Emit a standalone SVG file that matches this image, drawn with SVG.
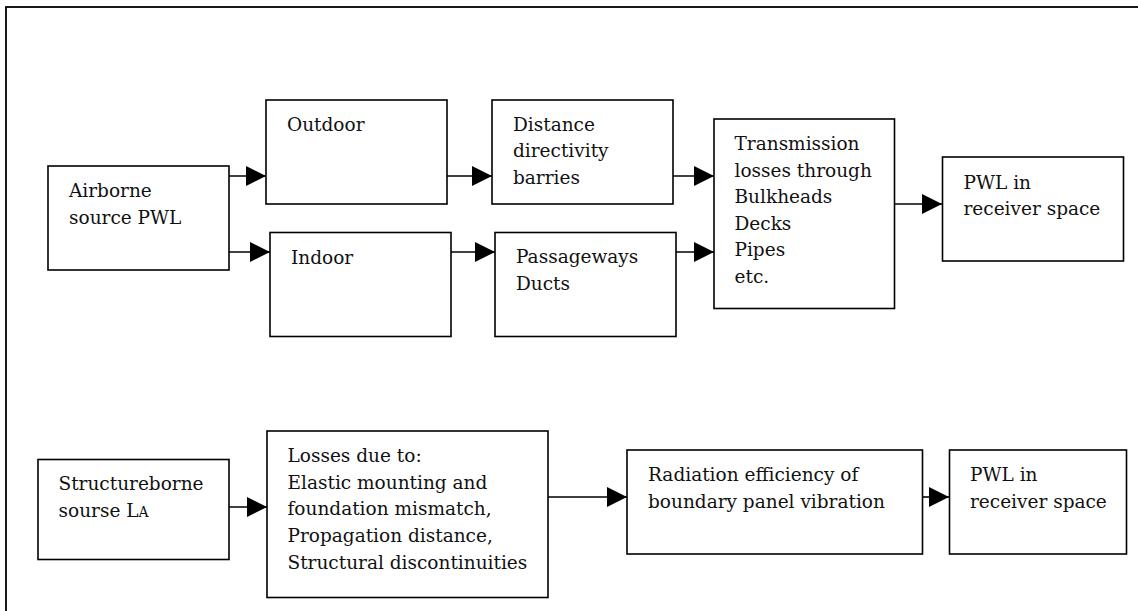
<svg xmlns="http://www.w3.org/2000/svg" width="1138" height="611" viewBox="0 0 1138 611">
<style>
.box{fill:#fff;stroke:#000;stroke-width:1.6}
.frame{fill:none;stroke:#000;stroke-width:1.8}
.c{stroke:#000;stroke-width:1.6;fill:none}
text{font-family:"DejaVu Serif","Liberation Serif",serif;font-size:18.5px;fill:#111}
</style>
<defs>
<marker id="ah" viewBox="0 0 20 20" refX="20" refY="10" markerWidth="20" markerHeight="20" markerUnits="userSpaceOnUse" orient="auto">
<path d="M0,0 L20,10 L0,20 Z" fill="#000"/>
</marker>
</defs>
<rect class="frame" x="6" y="7" width="1160" height="640"/>
<g id="connectors">
<line class="c" x1="229" y1="176" x2="266" y2="176" marker-end="url(#ah)"/>
<line class="c" x1="229" y1="252" x2="270" y2="252" marker-end="url(#ah)"/>
<line class="c" x1="447" y1="176" x2="492" y2="176" marker-end="url(#ah)"/>
<line class="c" x1="451" y1="252" x2="495" y2="252" marker-end="url(#ah)"/>
<line class="c" x1="673" y1="176" x2="714" y2="176" marker-end="url(#ah)"/>
<line class="c" x1="676" y1="252" x2="714" y2="252" marker-end="url(#ah)"/>
<line class="c" x1="894" y1="204" x2="942" y2="204" marker-end="url(#ah)"/>
<line class="c" x1="229" y1="507" x2="267" y2="507" marker-end="url(#ah)"/>
<line class="c" x1="548" y1="497" x2="627" y2="497" marker-end="url(#ah)"/>
<line class="c" x1="922" y1="497" x2="949" y2="497" marker-end="url(#ah)"/>
</g>
<g id="airborne">
<rect class="box" x="48" y="166" width="181" height="104"/>
<text x="69" y="197">Airborne</text>
<text x="69" y="223.5">source PWL</text>
</g>
<g id="outdoor">
<rect class="box" x="266" y="100" width="181" height="104"/>
<text x="287" y="131">Outdoor</text>
</g>
<g id="indoor">
<rect class="box" x="270" y="232.5" width="181" height="104"/>
<text x="291" y="263.5">Indoor</text>
</g>
<g id="distance">
<rect class="box" x="492" y="100" width="181" height="104"/>
<text x="513" y="131">Distance</text>
<text x="513" y="157">directivity</text>
<text x="513" y="183.5">barries</text>
</g>
<g id="passageways">
<rect class="box" x="495" y="232.5" width="181" height="104"/>
<text x="516" y="263">Passageways</text>
<text x="516" y="289.5">Ducts</text>
</g>
<g id="transmission">
<rect class="box" x="714" y="119" width="180.5" height="189.5"/>
<text x="734.5" y="150">Transmission</text>
<text x="734.5" y="176.5">losses through</text>
<text x="734.5" y="203">Bulkheads</text>
<text x="734.5" y="229.5">Decks</text>
<text x="734.5" y="256">Pipes</text>
<text x="734.5" y="283">etc.</text>
</g>
<g id="pwl-top">
<rect class="box" x="942.5" y="157" width="181" height="104"/>
<text x="963.5" y="188.5">PWL in</text>
<text x="963.5" y="215">receiver space</text>
</g>
<g id="structureborne">
<rect class="box" x="38" y="459.5" width="191" height="100"/>
<text x="58.5" y="490">Structureborne</text>
<text x="58.5" y="516.5">sourse L<tspan font-size="14px">A</tspan></text>
</g>
<g id="losses">
<rect class="box" x="267" y="431" width="281" height="166.5"/>
<text x="287.5" y="462">Losses due to:</text>
<text x="287.5" y="488.5">Elastic mounting and</text>
<text x="287.5" y="515">foundation mismatch,</text>
<text x="287.5" y="541.5">Propagation distance,</text>
<text x="287.5" y="568.5">Structural discontinuities</text>
</g>
<g id="radiation">
<rect class="box" x="627" y="450" width="295.5" height="104"/>
<text x="648" y="481">Radiation efficiency of</text>
<text x="648" y="507.5">boundary panel vibration</text>
</g>
<g id="pwl-bottom">
<rect class="box" x="949.5" y="450" width="177" height="104"/>
<text x="970" y="481">PWL in</text>
<text x="970" y="507.5">receiver space</text>
</g>
</svg>
